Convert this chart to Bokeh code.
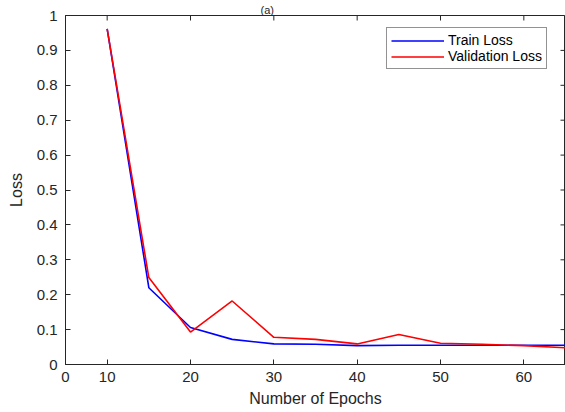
import math
from bokeh.plotting import figure
from bokeh.models import FixedTicker, Range1d, Legend, LegendItem
from bokeh.embed import file_html
from bokeh.resources import INLINE

epochs = [10, 15, 20, 25, 30, 35, 40, 45, 50, 55, 60, 65]
train_loss = [0.962, 0.220, 0.106, 0.072, 0.059, 0.058, 0.054, 0.055, 0.055, 0.055, 0.055, 0.055]
val_loss = [0.962, 0.249, 0.093, 0.182, 0.078, 0.072, 0.059, 0.086, 0.061, 0.058, 0.054, 0.048]
x_ticks = [5, 10, 20, 30, 40, 50, 60]
x_tick_labels = {5: "0", 10: "10", 20: "20", 30: "30", 40: "40", 50: "50", 60: "60"}
y_ticks = [0, 0.1, 0.2, 0.3, 0.4, 0.5, 0.6, 0.7, 0.8, 0.9, 1.0]
y_tick_labels = {0: "0", 0.1: "0.1", 0.2: "0.2", 0.3: "0.3", 0.4: "0.4", 0.5: "0.5",
                 0.6: "0.6", 0.7: "0.7", 0.8: "0.8", 0.9: "0.9", 1.0: "1"}
title_text = "(a)"
x_min, x_max = 5, 65
y_min, y_max = 0, 1

FONT = "Liberation Sans"
TXT = "#262626"

p = figure(width=565, height=412, output_backend="svg", toolbar_location=None,
           x_range=Range1d(x_min, x_max), y_range=Range1d(y_min, y_max),
           frame_width=500, frame_height=349,
           min_border_left=65, min_border_top=15, min_border_right=0, min_border_bottom=48,
           x_axis_label="Number of Epochs", y_axis_label="Loss", title=title_text)
p.title.align = "left"
p.title.offset = 195
p.title.standoff = 0
p.title.text_font = FONT
p.title.text_font_size = "11px"
p.title.text_font_style = "normal"
p.title.text_color = TXT
p.xgrid.visible = False
p.ygrid.visible = False
p.outline_line_color = TXT
p.outline_line_width = 1

for ax in p.xaxis + p.yaxis:
    ax.major_tick_in = 5
    ax.major_tick_out = 0
    ax.minor_tick_in = 0
    ax.minor_tick_out = 0
    ax.axis_line_color = TXT
    ax.major_tick_line_color = TXT
    ax.major_label_text_font = FONT
    ax.major_label_text_font_size = "15px"
    ax.major_label_text_color = TXT
    ax.axis_label_text_font = FONT
    ax.axis_label_text_font_size = "16px"
    ax.axis_label_text_font_style = "normal"
    ax.axis_label_text_color = TXT

p.xaxis.ticker = FixedTicker(ticks=x_ticks)
p.xaxis.major_label_overrides = x_tick_labels
p.xaxis.major_label_standoff = 7
p.xaxis.axis_label_standoff = 5
p.yaxis.ticker = FixedTicker(ticks=y_ticks)
p.yaxis.major_label_overrides = y_tick_labels
p.yaxis.major_label_standoff = 8
p.yaxis.axis_label_standoff = 9

# mirrored inward ticks on the top and right edges (markers centred on the edge,
# the outer half is clipped by the frame)
p.scatter(x_ticks, [y_max] * len(x_ticks), marker="dash", size=10, angle=math.pi / 2,
          line_color=TXT, line_width=1)
p.scatter([x_max] * len(y_ticks), y_ticks, marker="dash", size=10,
          line_color=TXT, line_width=1)

r1 = p.line(epochs, train_loss, line_color="#0000ff", line_width=1.6)
r2 = p.line(epochs, val_loss, line_color="#ff0000", line_width=1.6)

legend = Legend(items=[LegendItem(label="Train Loss", renderers=[r1]),
                       LegendItem(label="Validation Loss", renderers=[r2])],
                location=(321, 295), glyph_width=53, glyph_height=15,
                label_standoff=4, label_height=15, padding=4, spacing=0, margin=0,
                label_text_font=FONT, label_text_font_size="14px", label_text_color="#000000",
                border_line_color="#262626", border_line_width=1,
                background_fill_color="white", background_fill_alpha=1)
p.add_layout(legend, "center")

open("out.html", "w").write(file_html(p, INLINE))
